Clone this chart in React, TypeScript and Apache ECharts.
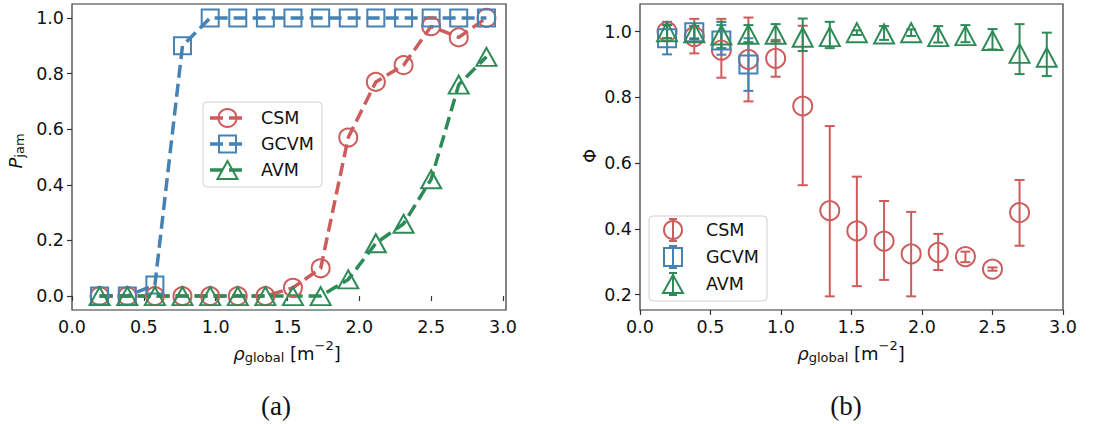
import React, { useEffect, useRef } from "react";
import * as echarts from "echarts";

// ---------- data ----------
const rho = [0.192, 0.385, 0.577, 0.769, 0.962, 1.154, 1.346, 1.538, 1.731, 1.923, 2.115, 2.308, 2.5, 2.692, 2.885];

const pJamCSM = [0, 0, 0, 0, 0, 0, 0, 0.03, 0.10, 0.57, 0.77, 0.83, 0.97, 0.93, 1.0];
const pJamGCVM = [0, 0, 0.04, 0.90, 1, 1, 1, 1, 1, 1, 1, 1, 1, 1, 1];
const pJamAVM = [0, 0, 0, 0, 0, 0, 0, 0, 0, 0.06, 0.19, 0.26, 0.42, 0.76, 0.86];

const phiCSM = [1.0, 0.985, 0.944, 0.916, 0.919, 0.774, 0.456, 0.394, 0.363, 0.324, 0.329, 0.316, 0.278, 0.45];
const phiCSMLow = [0.98, 0.934, 0.86, 0.788, 0.863, 0.533, 0.195, 0.226, 0.245, 0.195, 0.275, 0.299, 0.273, 0.349];
const phiCSMHigh = [1.02, 1.039, 1.039, 1.043, 0.975, 1.018, 0.713, 0.559, 0.485, 0.452, 0.385, 0.331, 0.283, 0.549];

const phiGCVM = [0.98, 0.998, 0.973, 0.90];
const phiGCVMLow = [0.931, 0.98, 0.93, 0.82];
const phiGCVMHigh = [1.03, 1.016, 1.02, 0.98];

const phiAVM = [1.0, 0.997, 0.99, 0.992, 0.992, 0.983, 0.985, 0.997, 0.993, 0.997, 0.985, 0.988, 0.973, 0.934, 0.922];
const phiAVMLow = [0.98, 0.977, 0.95, 0.968, 0.97, 0.941, 0.95, 0.99, 0.975, 0.987, 0.967, 0.968, 0.946, 0.871, 0.865];
const phiAVMHigh = [1.02, 1.017, 1.03, 1.02, 1.023, 1.04, 1.03, 1.004, 1.017, 1.007, 1.017, 1.02, 1.008, 1.023, 0.997];

const xTicks = [0, 0.5, 1.0, 1.5, 2.0, 2.5, 3.0];
const yTicksLeft = [0, 0.2, 0.4, 0.6, 0.8, 1.0];
const yTicksRight = [0.2, 0.4, 0.6, 0.8, 1.0];

const seriesNames = ["CSM", "GCVM", "AVM"];

// ---------- style ----------
const RED = "#cd5c5c";
const BLUE = "#4682b4";
const GREEN = "#2e8b57";
const FONT = "DejaVu Sans";
const TICK_FS = 17.5;
const AX = "#333";

function measure(text: string, size: number, italic: boolean) {
  const c = document.createElement("canvas").getContext("2d")!;
  c.font = `${italic ? "italic " : ""}${size}px "${FONT}"`;
  return c.measureText(text).width;
}

type Piece = { text: string; size: number; italic?: boolean; dy?: number };

function richLabel(pieces: Piece[], cx: number, cy: number, rotation = 0) {
  const widths = pieces.map((p) => measure(p.text, p.size, !!p.italic));
  const total = widths.reduce((a, b) => a + b, 0);
  let x = -total / 2;
  const children = pieces.map((p, i) => {
    const el = {
      type: "text",
      x,
      y: p.dy || 0,
      style: {
        text: p.text,
        fontSize: p.size,
        fontFamily: FONT,
        fontStyle: p.italic ? "italic" : "normal",
        fill: "#111",
        textAlign: "left",
        textVerticalAlign: "middle",
        verticalAlign: "middle",
      },
    };
    x += widths[i];
    return el;
  });
  return { type: "group", x: cx, y: cy, rotation, children };
}

function markerGraphic(kind: string, cx: number, cy: number, color: string, size: number) {
  const style = { fill: "none", stroke: color, lineWidth: 2 };
  if (kind === "circle") return { type: "circle", shape: { cx, cy, r: size / 2 }, style };
  if (kind === "rect")
    return { type: "rect", shape: { x: cx - size / 2, y: cy - size / 2, width: size, height: size }, style };
  const h = size * 0.9;
  return {
    type: "polygon",
    shape: { points: [[cx, cy - h / 2], [cx - size / 2, cy + h / 2], [cx + size / 2, cy + h / 2]] },
    style,
  };
}

function legendLeft() {
  const ys = [118, 144, 170];
  const colors = [RED, BLUE, GREEN];
  const kinds = ["circle", "rect", "triangle"];
  const sizes = [18, 17, 20];
  const children: any[] = [
    {
      type: "rect",
      shape: { x: 203, y: 102, width: 119, height: 85, r: 4 },
      style: { fill: "rgba(255,255,255,0.85)", stroke: "#d0d0d0", lineWidth: 1 },
    },
  ];
  ys.forEach((y, i) => {
    children.push({
      type: "line",
      shape: { x1: 210, y1: y, x2: 245, y2: y },
      style: { stroke: colors[i], lineWidth: 3.5, lineDash: [13, 6] },
    });
    children.push(markerGraphic(kinds[i], 227.5, y, colors[i], sizes[i]));
    children.push({
      type: "text",
      x: 261,
      y,
      style: { text: seriesNames[i], fontSize: TICK_FS, fontFamily: FONT, fill: "#111", verticalAlign: "middle", textVerticalAlign: "middle" },
    });
  });
  return { type: "group", children };
}

function legendRight() {
  const ys = [230, 257, 284];
  const colors = [RED, BLUE, GREEN];
  const kinds = ["circle", "rect", "triangle"];
  const sizes = [18, 18, 20];
  const mx = 673;
  const children: any[] = [
    {
      type: "rect",
      shape: { x: 649, y: 216, width: 118, height: 85, r: 4 },
      style: { fill: "rgba(255,255,255,0.85)", stroke: "#d0d0d0", lineWidth: 1 },
    },
  ];
  ys.forEach((y, i) => {
    children.push({ type: "line", shape: { x1: mx, y1: y - 11, x2: mx, y2: y + 11 }, style: { stroke: colors[i], lineWidth: 2 } });
    children.push({ type: "line", shape: { x1: mx - 4, y1: y - 11, x2: mx + 4, y2: y - 11 }, style: { stroke: colors[i], lineWidth: 2 } });
    children.push({ type: "line", shape: { x1: mx - 4, y1: y + 11, x2: mx + 4, y2: y + 11 }, style: { stroke: colors[i], lineWidth: 2 } });
    children.push(markerGraphic(kinds[i], mx, y, colors[i], sizes[i]));
    children.push({
      type: "text",
      x: 706,
      y,
      style: { text: seriesNames[i], fontSize: TICK_FS, fontFamily: FONT, fill: "#111", verticalAlign: "middle", textVerticalAlign: "middle" },
    });
  });
  return { type: "group", children };
}

function zip(xs: number[], ys: number[]) {
  return ys.map((y, i) => [xs[i], y]);
}
function zip3(xs: number[], a: number[], b: number[]) {
  return a.map((v, i) => [xs[i], v, b[i]]);
}

function errorSeries(color: string, low: number[], high: number[]) {
  return {
    type: "custom",
    xAxisIndex: 1,
    yAxisIndex: 1,
    silent: true,
    data: zip3(rho, low, high),
    encode: { x: 0, y: [1, 2] },
    renderItem: (params: any, api: any) => {
      const p1 = api.coord([api.value(0), api.value(1)]);
      const p2 = api.coord([api.value(0), api.value(2)]);
      const s = { stroke: color, lineWidth: 2 };
      return {
        type: "group",
        children: [
          { type: "line", shape: { x1: p1[0], y1: p1[1], x2: p2[0], y2: p2[1] }, style: s },
          { type: "line", shape: { x1: p1[0] - 5, y1: p1[1], x2: p1[0] + 5, y2: p1[1] }, style: s },
          { type: "line", shape: { x1: p2[0] - 5, y1: p2[1], x2: p2[0] + 5, y2: p2[1] }, style: s },
        ],
      };
    },
  };
}

function axisX(gridIndex: number, max: number) {
  return {
    type: "value",
    gridIndex,
    min: 0,
    max,
    axisLine: { show: false },
    splitLine: { show: false },
    axisTick: { show: true, inside: false, length: 5, lineStyle: { color: AX, width: 1.2 }, customValues: xTicks },
    axisLabel: {
      customValues: xTicks,
      formatter: (v: number) => v.toFixed(1),
      fontSize: TICK_FS,
      fontFamily: FONT,
      color: "#111",
      margin: 8,
    },
  };
}

function axisY(gridIndex: number, min: number, max: number, ticks: number[]) {
  return {
    type: "value",
    gridIndex,
    min,
    max,
    axisLine: { show: false },
    splitLine: { show: false },
    axisTick: { show: true, inside: false, length: 5, lineStyle: { color: AX, width: 1.2 }, customValues: ticks },
    axisLabel: {
      customValues: ticks,
      formatter: (v: number) => v.toFixed(1),
      fontSize: TICK_FS,
      fontFamily: FONT,
      color: "#111",
      margin: 8,
    },
  };
}

function lineSeries(data: number[], color: string, symbol: string, size: any) {
  return {
    type: "line",
    xAxisIndex: 0,
    yAxisIndex: 0,
    data: zip(rho, data),
    symbol,
    symbolSize: size,
    showSymbol: true,
    lineStyle: { color, width: 3.5, type: [13, 6] },
    itemStyle: { color: "rgba(0,0,0,0)", borderColor: color, borderWidth: 2 },
    emphasis: { disabled: true },
    silent: true,
  };
}

function scatterSeries(data: number[], color: string, symbol: string, size: any) {
  return {
    type: "scatter",
    xAxisIndex: 1,
    yAxisIndex: 1,
    data: zip(rho, data),
    symbol,
    symbolSize: size,
    itemStyle: { color: "rgba(0,0,0,0)", borderColor: color, borderWidth: 2, opacity: 1 },
    emphasis: { disabled: true },
    silent: true,
  };
}

export default function App() {
  const ref = useRef<HTMLDivElement>(null);
  useEffect(() => {
    if (!ref.current) return;
    const chart = echarts.init(ref.current, undefined, { renderer: "svg" });
    const option: any = {
      animation: false,
      backgroundColor: "#ffffff",
      grid: [
        { left: 72, top: 4, width: 434, height: 306, show: true, borderColor: AX, borderWidth: 1.2, backgroundColor: "transparent" },
        { left: 640, top: 4, width: 423, height: 306, show: true, borderColor: AX, borderWidth: 1.2, backgroundColor: "transparent" },
      ],
      xAxis: [axisX(0, 3.021), axisX(1, 3.0)],
      yAxis: [axisY(0, -0.05, 1.05, yTicksLeft), axisY(1, 0.1535, 1.0842, yTicksRight)],
      series: [
        lineSeries(pJamCSM, RED, "circle", 18),
        lineSeries(pJamGCVM, BLUE, "rect", 17),
        lineSeries(pJamAVM, GREEN, "triangle", [20, 18]),
        errorSeries(RED, phiCSMLow, phiCSMHigh),
        scatterSeries(phiCSM, RED, "circle", 19),
        errorSeries(BLUE, phiGCVMLow, phiGCVMHigh),
        scatterSeries(phiGCVM, BLUE, "rect", 18),
        errorSeries(GREEN, phiAVMLow, phiAVMHigh),
        scatterSeries(phiAVM, GREEN, "triangle", [20, 19]),
      ],
      graphic: [
        legendLeft(),
        legendRight(),
        richLabel(
          [
            { text: "ρ", size: 18, italic: true },
            { text: "global", size: 13, dy: 4 },
            { text: " [m", size: 18 },
            { text: "−2", size: 13, dy: -8 },
            { text: "]", size: 18 },
          ],
          287,
          353
        ),
        richLabel(
          [
            { text: "ρ", size: 18, italic: true },
            { text: "global", size: 13, dy: 4 },
            { text: " [m", size: 18 },
            { text: "−2", size: 13, dy: -8 },
            { text: "]", size: 18 },
          ],
          851,
          353
        ),
        richLabel(
          [
            { text: "P", size: 18, italic: true },
            { text: "jam", size: 13, dy: 4 },
          ],
          15,
          151,
          Math.PI / 2
        ),
        richLabel([{ text: "Φ", size: 18 }], 589, 156, Math.PI / 2),
        {
          type: "text",
          x: 276,
          y: 406,
          style: { text: "(a)", fontSize: 27, fontFamily: "Liberation Serif", fill: "#111", align: "center", textAlign: "center", verticalAlign: "middle", textVerticalAlign: "middle" },
        },
        {
          type: "text",
          x: 846,
          y: 406,
          style: { text: "(b)", fontSize: 27, fontFamily: "Liberation Serif", fill: "#111", align: "center", textAlign: "center", verticalAlign: "middle", textVerticalAlign: "middle" },
        },
      ],
    };
    chart.setOption(option);
    return () => chart.dispose();
  }, []);
  return <div ref={ref} style={{ position: "fixed", left: 0, top: 0, width: 1096, height: 424 }} />;
}
